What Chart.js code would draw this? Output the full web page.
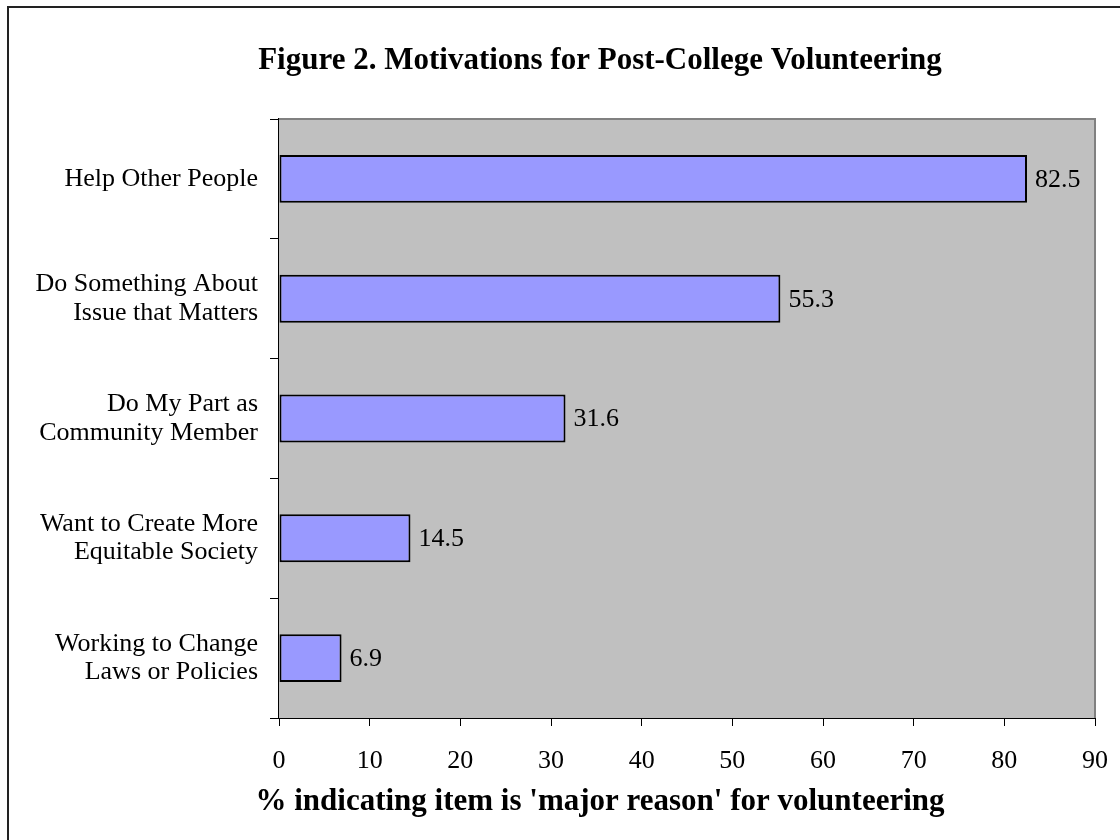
<!DOCTYPE html>
<html>
<head>
<meta charset="utf-8">
<title>Motivations for Post-College Volunteering</title>
<script src="https://cdn.jsdelivr.net/npm/chart.js@4.4.1/dist/chart.umd.min.js"></script>
<style>
  html, body { margin: 0; padding: 0; background: #fff; }
  #wrap { width: 1120px; height: 840px; position: relative; }
</style>
</head>
<body>
<div id="wrap"><canvas id="chart" width="1120" height="840"></canvas></div>
<script>
// DATA
const reasons = [
  "Help Other People",
  ["Do Something About", "Issue that Matters"],
  ["Do My Part as", "Community Member"],
  ["Want to Create More", "Equitable Society"],
  ["Working to Change", "Laws or Policies"]
];
const majorReasonPct = [82.5, 55.3, 31.6, 14.5, 6.9];
const xTicks = [0, 10, 20, 30, 40, 50, 60, 70, 80, 90];
const chartTitle = "Figure 2. Motivations for Post-College Volunteering";
const xAxisTitle = "% indicating item is 'major reason' for volunteering";

const SERIF = "'Liberation Serif', 'Times New Roman', serif";

// gray plot background, frame lines and the two headings
const plotFrame = {
  id: "plotFrame",
  beforeDatasetsDraw(chart) {
    const { ctx, chartArea: a } = chart;
    ctx.save();
    ctx.fillStyle = "#c0c0c0";
    ctx.fillRect(a.left, a.top, a.right - a.left, a.bottom - a.top);
    ctx.strokeStyle = "#808080";
    ctx.lineWidth = 2;
    ctx.beginPath();
    ctx.moveTo(a.left, a.top);
    ctx.lineTo(a.right, a.top);
    ctx.lineTo(a.right, a.bottom);
    ctx.stroke();
    ctx.restore();
  },
  afterDraw(chart) {
    const { ctx } = chart;
    ctx.save();
    ctx.fillStyle = "#222";
    ctx.fillRect(7, 6, 1113, 2);
    ctx.fillRect(7, 6, 2, 834);

    ctx.fillStyle = "#000";
    ctx.textAlign = "center";
    ctx.textBaseline = "middle";
    ctx.font = "bold 31px " + SERIF;
    ctx.fillText(chartTitle, 600, 61);
    ctx.fillText(xAxisTitle, 600, 802);
    ctx.restore();
  }
};

// value text to the right of each bar
const barValues = {
  id: "barValues",
  afterDatasetsDraw(chart) {
    const { ctx } = chart;
    const meta = chart.getDatasetMeta(0);
    ctx.save();
    ctx.font = "26px " + SERIF;
    ctx.fillStyle = "#000";
    ctx.textAlign = "left";
    ctx.textBaseline = "middle";
    meta.data.forEach((bar, i) => {
      ctx.fillText(majorReasonPct[i].toFixed(1), bar.x + 8, bar.y + 1);
    });
    ctx.restore();
  }
};

new Chart(document.getElementById("chart"), {
  type: "bar",
  data: {
    labels: reasons,
    datasets: [{
      data: majorReasonPct,
      backgroundColor: "#9999ff",
      borderColor: "#000",
      borderWidth: 2,
      borderSkipped: false,
      barPercentage: 0.4,
      categoryPercentage: 1.0
    }]
  },
  options: {
    indexAxis: "y",
    responsive: false,
    animation: false,
    layout: { padding: { top: 119, right: 25, left: 0, bottom: 0 } },
    plugins: {
      legend: { display: false },
      tooltip: { enabled: false },
      title: { display: false }
    },
    scales: {
      x: {
        min: 0,
        max: 90,
        afterBuildTicks(scale) {
          scale.ticks = xTicks.map(v => ({ value: v }));
        },
        afterFit(scale) {
          scale.height = 122;
          scale.paddingLeft = 0;
          scale.paddingRight = 0;
        },
        border: { color: "#000", width: 2 },
        grid: { drawOnChartArea: false, drawTicks: true, tickLength: 8, color: "#000", lineWidth: 1 },
        ticks: { color: "#000", padding: 20, font: { family: SERIF, size: 26 } }
      },
      y: {
        afterFit(scale) { scale.width = 279; },
        border: { color: "#000", width: 2 },
        grid: { offset: true, drawOnChartArea: false, drawTicks: true, tickLength: 9, color: "#000", lineWidth: 1 },
        ticks: { color: "#000", padding: 12, font: { family: SERIF, size: 26, lineHeight: 1.1 } }
      }
    }
  },
  plugins: [plotFrame, barValues]
});
</script>
</body>
</html>
